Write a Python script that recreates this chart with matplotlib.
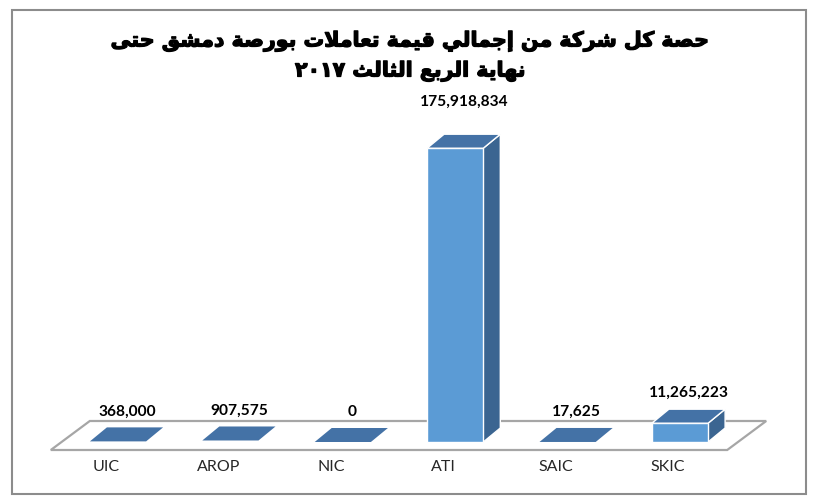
import matplotlib
matplotlib.use("Agg")
import matplotlib.pyplot as plt
import matplotlib.patheffects as pe
from matplotlib.patches import Polygon, Rectangle

# ---------------- data ----------------
categories = ["UIC", "AROP", "NIC", "ATI", "SAIC", "SKIC"]
values = [368000, 907575, 0, 175918834, 17625, 11265223]
value_labels = ["368,000", "907,575", "0", "175,918,834", "17,625", "11,265,223"]
title_line1 = "حصة كل شركة من إجمالي قيمة تعاملات بورصة دمشق حتى"
title_line2 = "نهاية الربع الثالث ٢٠١٧"

# ---------------- minimal Arabic shaping (matplotlib has no shaper) ----------------
FORMS = {  # isolated, final, initial, medial
    'ا': (0xFE8D, 0xFE8E, None, None), 'إ': (0xFE87, 0xFE88, None, None),
    'ب': (0xFE8F, 0xFE90, 0xFE91, 0xFE92), 'ة': (0xFE93, 0xFE94, None, None),
    'ت': (0xFE95, 0xFE96, 0xFE97, 0xFE98), 'ث': (0xFE99, 0xFE9A, 0xFE9B, 0xFE9C),
    'ج': (0xFE9D, 0xFE9E, 0xFE9F, 0xFEA0), 'ح': (0xFEA1, 0xFEA2, 0xFEA3, 0xFEA4),
    'د': (0xFEA9, 0xFEAA, None, None), 'ر': (0xFEAD, 0xFEAE, None, None),
    'ش': (0xFEB5, 0xFEB6, 0xFEB7, 0xFEB8), 'ص': (0xFEB9, 0xFEBA, 0xFEBB, 0xFEBC),
    'ع': (0xFEC9, 0xFECA, 0xFECB, 0xFECC), 'ق': (0xFED5, 0xFED6, 0xFED7, 0xFED8),
    'ك': (0xFED9, 0xFEDA, 0xFEDB, 0xFEDC), 'ل': (0xFEDD, 0xFEDE, 0xFEDF, 0xFEE0),
    'م': (0xFEE1, 0xFEE2, 0xFEE3, 0xFEE4), 'ن': (0xFEE5, 0xFEE6, 0xFEE7, 0xFEE8),
    'ه': (0xFEE9, 0xFEEA, 0xFEEB, 0xFEEC), 'و': (0xFEED, 0xFEEE, None, None),
    'ى': (0xFEEF, 0xFEF0, None, None), 'ي': (0xFEF1, 0xFEF2, 0xFEF3, 0xFEF4),
}
LAMALEF = {'ا': (0xFEFB, 0xFEFC), 'إ': (0xFEF9, 0xFEFA)}


def dual(c):
    return c in FORMS and FORMS[c][2] is not None


def shape(text):
    toks = []
    i = 0
    while i < len(text):
        c = text[i]
        if c == 'ل' and i + 1 < len(text) and text[i + 1] in LAMALEF:
            toks.append(('LA', text[i + 1]))
            i += 2
            continue
        toks.append(('C', c))
        i += 1
    out = []
    for k, (kind, c) in enumerate(toks):
        prev = toks[k - 1] if k > 0 else None
        nxt = toks[k + 1] if k + 1 < len(toks) else None
        prev_joins = prev is not None and prev[0] == 'C' and dual(prev[1])
        if kind == 'LA':
            iso, fin = LAMALEF[c]
            out.append(chr(fin if prev_joins else iso))
            continue
        if c not in FORMS:
            out.append(c)
            continue
        nxt_joins = dual(c) and nxt is not None and (nxt[0] == 'LA' or nxt[1] in FORMS)
        iso, fin, ini, med = FORMS[c]
        if prev_joins and nxt_joins:
            out.append(chr(med))
        elif prev_joins:
            out.append(chr(fin))
        elif nxt_joins:
            out.append(chr(ini))
        else:
            out.append(chr(iso))
    s = ''.join(out)
    rev = s[::-1]
    res, run = [], []
    for ch in rev:
        if ch.isdigit():
            run.append(ch)
        else:
            if run:
                res.extend(run[::-1]); run = []
            res.append(ch)
    if run:
        res.extend(run[::-1])
    return ''.join(res)


# ---------------- figure ----------------
W_PX, H_PX, DPI = 821, 502, 100
fig = plt.figure(figsize=(W_PX / DPI, H_PX / DPI), dpi=DPI)
fig.patch.set_facecolor("white")

cat_px = 112.4
base_x = 118
base_y = 443
ymax = 200e6
ax_h_px = 334
left = base_x - 0.5 * cat_px
ax = fig.add_axes([left / W_PX, (H_PX - base_y) / H_PX,
                   6 * cat_px / W_PX, ax_h_px / H_PX])
ax.set_xlim(-0.5, 5.5)
ax.set_ylim(0, ymax)
ax.axis("off")


def px_x(p):
    return p / cat_px


def px_y(p):
    return p * ymax / ax_h_px


FRONT = "#5B9BD5"
TOP = "#4472A6"
SIDE = "#3B6591"
EDGE = "white"

# floor
fdx, fdy = 39, 29
f_front_y = px_y(-8)
f_back_y = f_front_y + px_y(fdy)
fl = -0.5 - px_x(11)
fr = 5.5 - px_x(9)
floor = Polygon([(fl, f_front_y), (fr, f_front_y),
                 (fr + px_x(fdx), f_back_y), (fl + px_x(fdx), f_back_y)],
                closed=True, facecolor="white", edgecolor="#A6A6A6",
                linewidth=1.6, clip_on=False, zorder=1)
ax.add_patch(floor)

# bars
bw = 0.5
ddx, ddy = px_x(17), px_y(14)
for i, (cat, v, lab) in enumerate(zip(categories, values, value_labels)):
    x0, x1 = i - bw / 2, i + bw / 2
    tall = v > px_y(3)
    if tall:
        ax.add_patch(Polygon([(x1, 0), (x1 + ddx, ddy), (x1 + ddx, v + ddy), (x1, v)],
                             closed=True, facecolor=SIDE, edgecolor=EDGE,
                             linewidth=1.0, clip_on=False, zorder=3))
        ax.add_patch(Rectangle((x0, 0), bw, v, facecolor=FRONT, edgecolor=EDGE,
                               linewidth=1.0, clip_on=False, zorder=3))
    ax.add_patch(Polygon([(x0, v), (x1, v), (x1 + ddx, v + ddy), (x0 + ddx, v + ddy)],
                         closed=True, facecolor=TOP, edgecolor=EDGE,
                         linewidth=1.0 if tall else 0.0, clip_on=False, zorder=4))
    off = 33 if v == max(values) else 17
    ax.text(i + px_x(9), v + ddy + px_y(off), lab, ha="center", va="center",
            fontsize=11.2, fontweight="bold", family="Lato", color="black",
            zorder=5, clip_on=False)
    ax.text(i - px_x(12), px_y(-24), cat, ha="center", va="center",
            fontsize=11.5, family="Lato", color="#262626", clip_on=False)

# title
stroke = [pe.withStroke(linewidth=0.9, foreground="black")]
fig.text(410 / W_PX, 1 - 42 / H_PX, shape(title_line1), ha="center", va="center",
         fontsize=14.8, fontweight="bold", family="DejaVu Sans", color="black",
         path_effects=stroke)
fig.text(410 / W_PX, 1 - 72 / H_PX, shape(title_line2), ha="center", va="center",
         fontsize=14.8, fontweight="bold", family="DejaVu Sans", color="black",
         path_effects=stroke)

# outer border
fig.patches.append(Rectangle((12 / W_PX, 7 / H_PX), 794 / W_PX, 484 / H_PX,
                             transform=fig.transFigure, fill=False,
                             edgecolor="#8C8C8C", linewidth=1.5))

fig.savefig("out.png", dpi=DPI)
